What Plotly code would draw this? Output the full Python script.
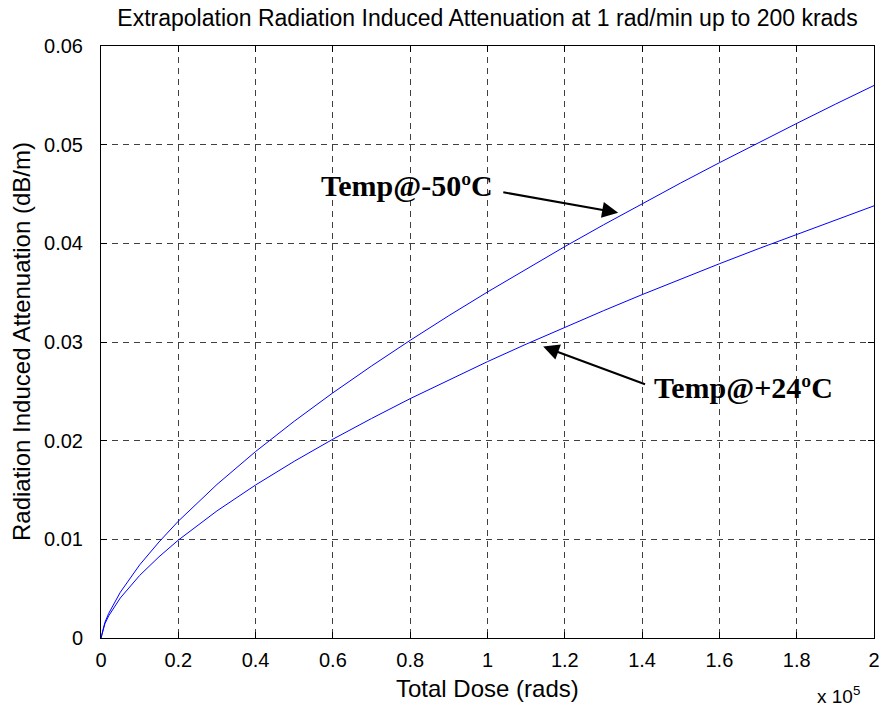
import plotly.graph_objects as go

# Total dose (rads)
dose = [0, 1000, 2000, 5000, 10000, 15000, 20000, 30000, 40000, 50000, 60000, 70000,
        80000, 90000, 100000, 110000, 120000, 130000, 140000, 150000, 160000, 170000,
        180000, 190000, 200000]

# Radiation induced attenuation (dB/m)
att_m50 = [0, 0.00157, 0.0025, 0.00464, 0.00741, 0.00973, 0.01184, 0.01556, 0.0189,
           0.02197, 0.02485, 0.02757, 0.03017, 0.03267, 0.03507, 0.03741, 0.03967,
           0.04187, 0.04402, 0.04612, 0.04817, 0.05018, 0.05215, 0.0541, 0.056]
att_p24 = [0, 0.00144, 0.00225, 0.00406, 0.00634, 0.00823, 0.00992, 0.01288, 0.01551,
           0.01791, 0.02015, 0.02225, 0.02426, 0.02617, 0.02801, 0.02978, 0.0315,
           0.03317, 0.0348, 0.03638, 0.03793, 0.03944, 0.04092, 0.04237, 0.0438]

x_tickvals = [0, 20000, 40000, 60000, 80000, 100000, 120000, 140000, 160000, 180000, 200000]
x_ticktext = ["0", "0.2", "0.4", "0.6", "0.8", "1", "1.2", "1.4", "1.6", "1.8", "2"]
y_tickvals = [0, 0.01, 0.02, 0.03, 0.04, 0.05, 0.06]
y_ticktext = ["0", "0.01", "0.02", "0.03", "0.04", "0.05", "0.06"]

title = "Extrapolation Radiation Induced Attenuation at 1 rad/min up to 200 krads"
xlabel = "Total Dose (rads)"
ylabel = "Radiation Induced Attenuation (dB/m)"
label_m50 = "Temp@-50ºC"
label_p24 = "Temp@+24ºC"

fig = go.Figure()
fig.add_trace(go.Scatter(x=dose, y=att_m50, mode="lines", line=dict(color="#0000ff", width=1),
                         name=label_m50, showlegend=False))
fig.add_trace(go.Scatter(x=dose, y=att_p24, mode="lines", line=dict(color="#0000ff", width=1),
                         name=label_p24, showlegend=False))

font = "Liberation Sans, Arial, sans-serif"
axis_common = dict(
    showline=True, linecolor="black", linewidth=1, mirror="ticks",
    ticks="inside", ticklen=6, tickcolor="black", tickwidth=1,
    showgrid=True, gridcolor="rgba(0,0,0,0.75)", griddash="6px,5px", gridwidth=1,
    zeroline=False, automargin=False, tickfont=dict(family=font, size=20, color="black"),
)

W, H = 883, 711
fig.update_layout(
    width=W, height=H,
    margin=dict(l=101, r=9, t=46, b=73),
    paper_bgcolor="white", plot_bgcolor="white",
    title=dict(text=title, x=0.5, xref="paper", y=1 - 18 / H, yanchor="middle",
               font=dict(family=font, size=23, color="black")),
    xaxis=dict(range=[0, 200000], tickvals=x_tickvals, ticktext=x_ticktext,
               ticklabelstandoff=4, **axis_common),
    yaxis=dict(range=[0, 0.06], tickvals=y_tickvals, ticktext=y_ticktext,
               ticklabelstandoff=13, **axis_common),
)

serif = "Liberation Serif, Times New Roman, serif"
fig.add_annotation(x=79050, y=0.04583, text="<b>" + label_m50 + "</b>", showarrow=False,
                   xanchor="center", yanchor="middle", font=dict(family=serif, size=30, color="black"))
fig.add_annotation(x=166150, y=0.02536, text="<b>" + label_p24 + "</b>", showarrow=False,
                   xanchor="center", yanchor="middle", font=dict(family=serif, size=30, color="black"))
fig.add_annotation(x=133800, y=0.0431, ax=103700, ay=0.0452, axref="x", ayref="y", text="",
                   showarrow=True, arrowhead=2, arrowsize=1.6, arrowwidth=2, arrowcolor="black")
fig.add_annotation(x=114400, y=0.02954, ax=141150, ay=0.02566, axref="x", ayref="y", text="",
                   showarrow=True, arrowhead=2, arrowsize=1.6, arrowwidth=2, arrowcolor="black")

fig.add_annotation(x=0.5, y=0, xref="paper", yref="paper", yshift=-50, text=xlabel,
                   showarrow=False, xanchor="center", yanchor="middle",
                   font=dict(family=font, size=24, color="black"))
fig.add_annotation(x=0, y=0.5, xref="paper", yref="paper", xshift=-80, text=ylabel, textangle=-90,
                   showarrow=False, xanchor="center", yanchor="middle",
                   font=dict(family=font, size=24, color="black"))
fig.add_annotation(x=1, y=0, xref="paper", yref="paper", xshift=-12, yshift=-57,
                   text="x 10<sup>5</sup>", showarrow=False, xanchor="right", yanchor="middle",
                   font=dict(family=font, size=19, color="black"))

# remove the browser's default 8px page margin so the figure fills the window exactly
fig.write_html("out.html", config={"displayModeBar": False},
               post_script="document.body.style.margin='0';")
